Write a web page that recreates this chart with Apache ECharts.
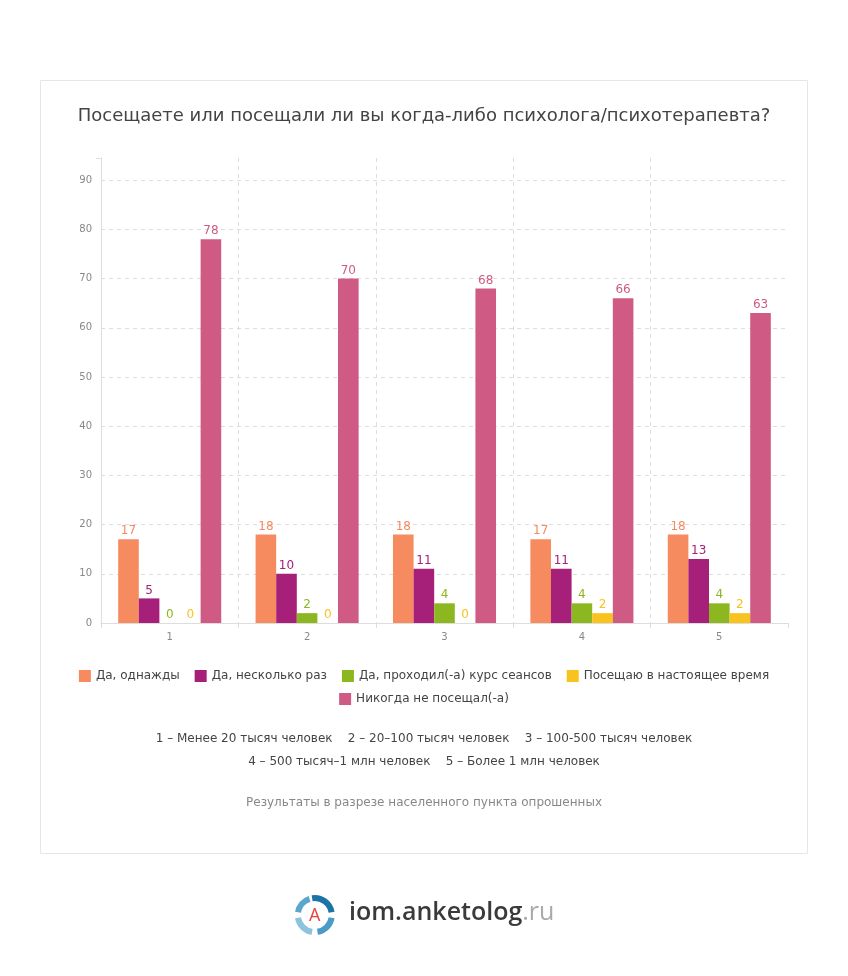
<!DOCTYPE html>
<html><head><meta charset="utf-8">
<script src="https://cdn.jsdelivr.net/npm/echarts@6/dist/echarts.min.js"></script>
<style>html,body{margin:0;padding:0;background:#fff}#c{width:848px;height:976px}</style>
</head><body><div id="c"></div>
<script>
const categories = ['1', '2', '3', '4', '5'];
const seriesNames = ['Да, однажды', 'Да, несколько раз', 'Да, проходил(-а) курс сеансов', 'Посещаю в настоящее время', 'Никогда не посещал(-а)'];
const onceValues = [17, 18, 18, 17, 18];
const severalValues = [5, 10, 11, 11, 13];
const courseValues = [0, 2, 4, 4, 4];
const nowValues = [0, 0, 0, 2, 2];
const neverValues = [78, 70, 68, 66, 63];
const colors = ['#f58b5f', '#a61f79', '#8db721', '#f9c31f', '#cf5b85'];
const titleText = 'Посещаете или посещали ли вы когда-либо психолога/психотерапевта?';
const noteLine1 = '1 – Менее 20 тысяч человек    2 – 20–100 тысяч человек    3 – 100-500 тысяч человек';
const noteLine2 = '4 – 500 тысяч–1 млн человек    5 – Более 1 млн человек';
const captionText = 'Результаты в разрезе населенного пункта опрошенных';

const allValues = [onceValues, severalValues, courseValues, nowValues, neverValues];
const font = '"DejaVu Sans", sans-serif';

const legendText = {fontSize: 12, color: '#444', fontFamily: font};
const chart = echarts.init(document.getElementById('c'), null, {renderer: 'canvas'});
chart.setOption({
  animation: false,
  color: colors,
  textStyle: {fontFamily: font},
  title: {
    text: titleText, left: 'center', top: 102,
    textStyle: {fontSize: 18, fontWeight: 'normal', color: '#444', fontFamily: font}
  },
  legend: [
    {data: seriesNames.slice(0, 4), top: 665, left: 'center',
      itemWidth: 12, itemHeight: 12, itemGap: 15, icon: 'rect', textStyle: legendText},
    {data: seriesNames.slice(4), top: 688, left: 'center',
      itemWidth: 12, itemHeight: 12, itemGap: 15, icon: 'rect', textStyle: legendText}
  ],
  grid: {left: 101, right: 60, top: 158, bottom: 353, containLabel: false},
  xAxis: {
    type: 'category', data: categories,
    axisLine: {lineStyle: {color: '#ddd'}},
    axisTick: {show: true, length: 5, lineStyle: {color: '#ddd'}},
    axisLabel: {color: '#888', fontSize: 10, margin: 9},
    splitLine: {show: true, showMinLine: false, showMaxLine: false, lineStyle: {color: '#ddd', type: [4, 4]}}
  },
  yAxis: {
    type: 'value', min: 0, max: 94.5, interval: 10,
    axisLine: {show: true, lineStyle: {color: '#ddd'}},
    axisTick: {show: false},
    axisLabel: {color: '#888', fontSize: 10, margin: 9, showMaxLabel: false,
      formatter: v => (v % 10 === 0 ? String(v) : '')},
    splitLine: {show: true, showMaxLine: false, showMinLine: false, lineStyle: {color: '#ddd', type: [4, 4]}}
  },
  series: seriesNames.map((n, i) => ({
    name: n, type: 'bar', data: allValues[i],
    barGap: 0, barCategoryGap: '25%',
    label: {show: true, position: 'top', distance: 2, color: colors[i], fontSize: 12, fontFamily: font}
  })),
  graphic: [
    {type: 'rect', z: -10, silent: true, shape: {x: 40.5, y: 80.5, width: 767, height: 773},
      style: {fill: '#fff', stroke: '#e6e6e6', lineWidth: 1}},
    {type: 'line', silent: true, shape: {x1: 96, y1: 158.5, x2: 101, y2: 158.5}, style: {stroke: '#ddd', lineWidth: 1}},
    {type: 'text', left: 'center', top: 733, style: {text: noteLine1, fontSize: 12, fill: '#444', fontFamily: font}},
    {type: 'text', left: 'center', top: 756, style: {text: noteLine2, fontSize: 12, fill: '#444', fontFamily: font}},
    {type: 'text', left: 'center', top: 797, style: {text: captionText, fontSize: 12, fill: '#888', fontFamily: font}},
    {type: 'group', left: 295, top: 895, children: [
      {type: 'arc', shape: {cx: 20, cy: 20, r: 17, startAngle: -Math.PI * 0.55, endAngle: -Math.PI * 0.05}, style: {stroke: '#1a75a6', lineWidth: 6, fill: null}},
      {type: 'arc', shape: {cx: 20, cy: 20, r: 17, startAngle: Math.PI * 0.05, endAngle: Math.PI * 0.45}, style: {stroke: '#4a9cc6', lineWidth: 6, fill: null}},
      {type: 'arc', shape: {cx: 20, cy: 20, r: 17, startAngle: Math.PI * 0.55, endAngle: Math.PI * 0.95}, style: {stroke: '#8cc4de', lineWidth: 6, fill: null}},
      {type: 'arc', shape: {cx: 20, cy: 20, r: 17, startAngle: Math.PI * 1.05, endAngle: Math.PI * 1.4}, style: {stroke: '#5aa6cc', lineWidth: 6, fill: null}},
      {type: 'text', x: 20, y: 21, style: {text: 'A', fontSize: 18, fill: '#e8413e', align: 'center', verticalAlign: 'middle', fontFamily: '"Open Sans", sans-serif'}}
    ]},
    {type: 'text', left: 349, top: 900, style: {
      text: '{a|iom.anketolog}{b|.ru}',
      rich: {
        a: {fontSize: 25, fill: '#3a3a3a', fontFamily: '"Open Sans", sans-serif', fontWeight: 600},
        b: {fontSize: 25, fill: '#aaa', fontFamily: '"Open Sans", sans-serif'}
      }
    }}
  ]
});
</script></body></html>
